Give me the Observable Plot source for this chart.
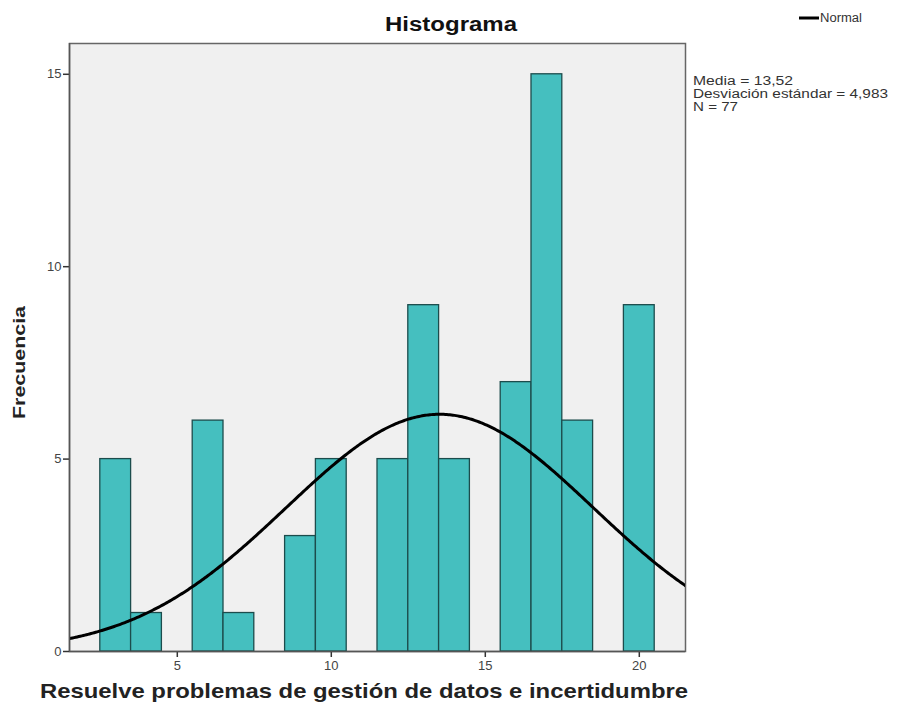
<!DOCTYPE html>
<html>
<head>
<meta charset="utf-8">
<script src="https://cdn.jsdelivr.net/npm/d3@7"></script>
<script src="https://cdn.jsdelivr.net/npm/@observablehq/plot@0.6"></script>
<style>
  html, body { margin: 0; padding: 0; background: #fff; }
  svg { display: block; }
</style>
</head>
<body>
<div id="chart"></div>
<script>
// Histogram bins (bin centre) and frequencies
const binCenters = [3, 4, 6, 7, 9, 10, 12, 13, 14, 16, 17, 18, 20];
const frequencies = [5, 1, 6, 1, 3, 5, 5, 9, 5, 7, 15, 6, 9];
const binWidth = 1;
// Stated summary statistics
const media = 13.52;
const desviacion = 4.983;
const n = 77;
const xTicks = [5, 10, 15, 20];
const yTicks = [0, 5, 10, 15];
const titleText = "Histograma";
const xLabel = "Resuelve problemas de gestión de datos e incertidumbre";
const yLabel = "Frecuencia";
const legendLabel = "Normal";
const statsLines = ["Media = 13,52", "Desviación estándar = 4,983", "N = 77"];

const bins = binCenters.map((c, i) => ({x1: c - binWidth / 2, x2: c + binWidth / 2, y: frequencies[i]}));

// Fitted normal curve (N * binWidth * pdf) from the stated mean and sd
const xDomain = [1.5, 21.5];
const curve = d3.range(xDomain[0], xDomain[1] + 0.001, 0.05).map(x => ({
  x,
  y: n * binWidth * Math.exp(-0.5 * ((x - media) / desviacion) ** 2) / (desviacion * Math.sqrt(2 * Math.PI))
}));

const FONT = "'Liberation Sans', Arial, sans-serif";

const chart = Plot.plot({
  width: 904,
  height: 711,
  marginLeft: 69,
  marginRight: 219,
  marginTop: 43,
  marginBottom: 60,
  style: {fontFamily: FONT, background: "#fff"},
  x: {domain: xDomain, ticks: xTicks, label: null},
  y: {domain: [0, 15.8], ticks: yTicks, label: null},
  marks: [
    Plot.frame({fill: "#f0f0f0", stroke: "#666", strokeWidth: 1.5}),
    Plot.rectY(bins, {x1: "x1", x2: "x2", y: "y", fill: "#45bfbf", stroke: "#1c4c4c", strokeWidth: 1.3, inset: 0}),
    Plot.line(curve, {x: "x", y: "y", stroke: "#000", strokeWidth: 3, clip: true}),
    Plot.axisX({ticks: xTicks, tickSize: 6, tickPadding: 3, fontSize: 13, color: "#444", stroke: "#333", strokeWidth: 1.5, label: null}),
    Plot.axisY({ticks: yTicks, tickSize: 6, tickPadding: 2, fontSize: 13, color: "#444", stroke: "#333", strokeWidth: 1.5, label: null}),
    Plot.ruleY([0], {stroke: "#555", strokeWidth: 1.5}),
    Plot.ruleX([xDomain[0]], {stroke: "#555", strokeWidth: 1.5})
  ]
});

document.getElementById("chart").appendChild(chart);

const svg = d3.select(chart);
const ann = svg.append("g").attr("font-family", FONT).attr("text-anchor", "start");

// Title
ann.append("text").attr("x", 385).attr("y", 31).attr("font-size", 20).attr("font-weight", "bold")
  .attr("fill", "#111").attr("textLength", 132).attr("lengthAdjust", "spacingAndGlyphs").text(titleText);

// X label
ann.append("text").attr("x", 40).attr("y", 698).attr("font-size", 21).attr("font-weight", "bold")
  .attr("fill", "#222").attr("textLength", 648).attr("lengthAdjust", "spacingAndGlyphs").text(xLabel);

// Y label
ann.append("text").attr("transform", "translate(25,419) rotate(-90)").attr("font-size", 16).attr("font-weight", "bold")
  .attr("fill", "#222").attr("textLength", 113).attr("lengthAdjust", "spacingAndGlyphs").text(yLabel);

// Stats block
const statsWidths = [100, 195, 45];
statsLines.forEach((t, i) => {
  ann.append("text").attr("x", 693).attr("y", 85 + i * 13).attr("font-size", 12.5).attr("fill", "#333")
    .attr("textLength", statsWidths[i]).attr("lengthAdjust", "spacingAndGlyphs").text(t);
});

// Legend
ann.append("line").attr("x1", 799).attr("x2", 819).attr("y1", 18).attr("y2", 18).attr("stroke", "#000").attr("stroke-width", 3);
ann.append("text").attr("x", 820).attr("y", 22).attr("font-size", 12).attr("fill", "#333")
  .attr("textLength", 42).attr("lengthAdjust", "spacingAndGlyphs").text(legendLabel);
</script>
</body>
</html>
